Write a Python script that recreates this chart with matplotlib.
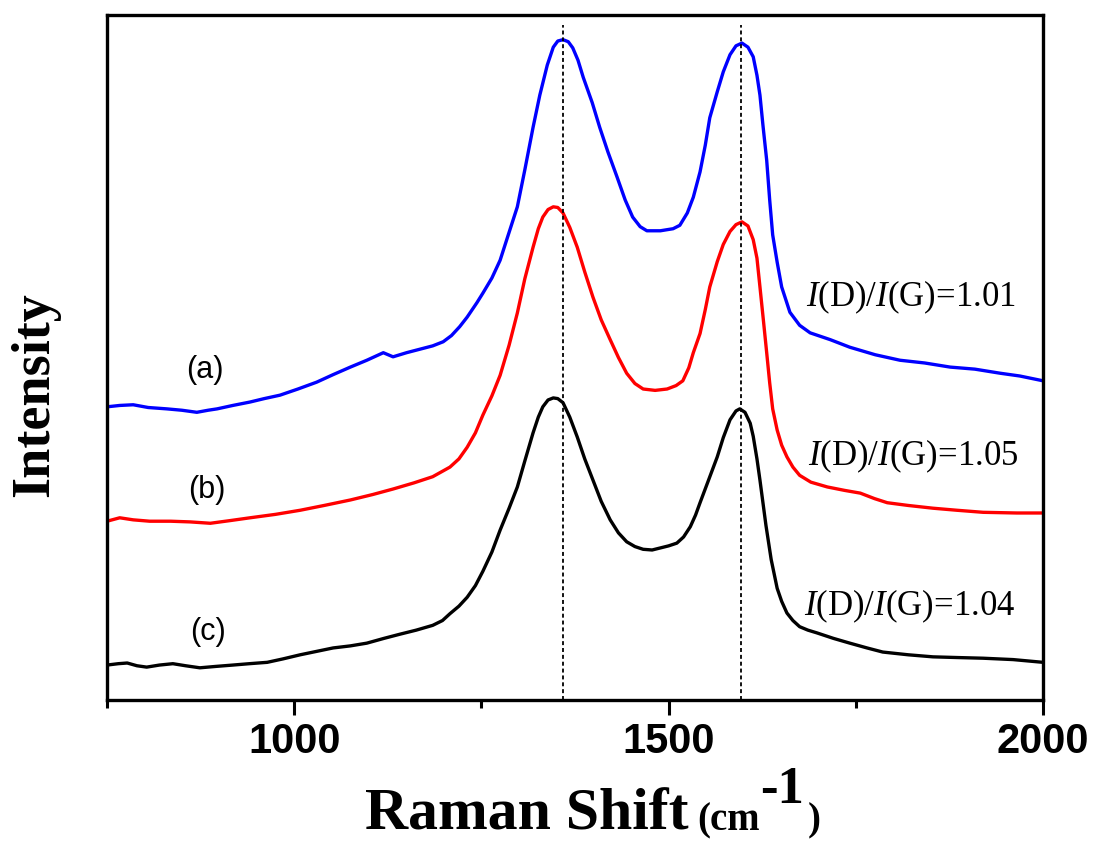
import matplotlib
matplotlib.use("Agg")
import matplotlib.pyplot as plt

plt.rcParams['mathtext.fontset'] = 'custom'
plt.rcParams['mathtext.rm'] = 'Liberation Serif'
plt.rcParams['mathtext.it'] = 'Liberation Serif:italic'

# ---- data (Raman shift in cm^-1, intensity in arbitrary units) ----
shift_a = [750, 767, 785, 805, 830, 850, 870, 885, 897, 918, 941, 960, 981, 1005, 1030, 1052,
           1075, 1097, 1119, 1132, 1150, 1164, 1185, 1199, 1210, 1221, 1231, 1244, 1252, 1264,
           1275, 1285, 1298, 1308, 1319, 1328, 1338, 1346, 1352, 1359, 1366, 1372, 1379, 1386,
           1398, 1408, 1419, 1431, 1442, 1452, 1462, 1471, 1489, 1506, 1515, 1525, 1533, 1542,
           1549, 1555, 1565, 1573, 1582, 1590, 1598, 1606, 1613, 1618, 1622, 1626, 1631, 1635,
           1639, 1645, 1651, 1662, 1675, 1689, 1716, 1742, 1776, 1809, 1842, 1876, 1909, 1943,
           1969, 2000]
int_a = [42.8, 43.0, 43.1, 42.7, 42.5, 42.3, 42.0, 42.3, 42.5, 43.0, 43.5, 44.0, 44.5, 45.4, 46.4, 47.5,
         48.6, 49.6, 50.7, 50.1, 50.7, 51.1, 51.7, 52.3, 53.2, 54.5, 55.9, 58.0, 59.4, 61.6,
         64.2, 67.6, 72.0, 77.4, 83.6, 88.3, 92.7, 95.3, 96.2, 96.4, 96.1, 95.2, 93.4, 90.9,
         87.2, 83.6, 80.0, 76.4, 73.0, 70.5, 69.1, 68.5, 68.5, 68.8, 69.3, 71.1, 73.4, 77.1,
         81.0, 85.0, 88.8, 91.7, 94.2, 95.5, 95.9, 95.3, 93.9, 91.2, 88.3, 83.9, 78.8, 73.0,
         67.9, 63.9, 60.3, 56.6, 54.7, 53.6, 52.6, 51.5, 50.4, 49.6, 49.2, 48.6, 48.3, 47.7,
         47.3, 46.6]

shift_b = [750, 767, 785, 807, 835, 861, 888, 915, 941, 975, 1008, 1040, 1075, 1105, 1132, 1160,
           1185, 1208, 1220, 1231, 1242, 1252, 1264, 1275, 1287, 1298, 1308, 1319, 1326, 1332,
           1339, 1346, 1352, 1359, 1368, 1378, 1388, 1399, 1410, 1422, 1433, 1444, 1455, 1466,
           1482, 1498, 1510, 1519, 1527, 1533, 1542, 1549, 1555, 1565, 1573, 1582, 1590, 1598,
           1606, 1613, 1618, 1622, 1627, 1631, 1635, 1639, 1645, 1651, 1658, 1666, 1675, 1690,
           1712, 1735, 1756, 1775, 1792, 1820, 1853, 1885, 1920, 1965, 2000]
int_b = [26.1, 26.6, 26.3, 26.1, 26.1, 26.0, 25.8, 26.2, 26.6, 27.1, 27.7, 28.4, 29.2, 30.0, 30.8, 31.7,
         32.6, 34.0, 35.2, 36.9, 39.0, 41.6, 44.4, 47.4, 51.8, 56.5, 61.5, 66.1, 68.8, 70.5,
         71.6, 72.0, 71.9, 71.1, 69.0, 66.1, 62.5, 58.8, 55.5, 52.6, 50.0, 47.7, 46.2, 45.4,
         45.2, 45.4, 45.9, 46.6, 48.5, 50.7, 53.5, 57.0, 60.3, 64.0, 66.5, 68.4, 69.4, 69.8,
         69.2, 67.2, 64.5, 60.3, 55.0, 50.7, 46.3, 42.5, 39.4, 37.2, 35.5, 34.0, 32.8, 31.8,
         31.1, 30.6, 30.2, 29.4, 28.8, 28.4, 28.0, 27.7, 27.4, 27.3, 27.3]

shift_c = [750, 765, 777, 790, 803, 820, 838, 855, 874, 895, 918, 940, 964, 985, 1008, 1030,
           1052, 1075, 1097, 1120, 1141, 1163, 1185, 1198, 1208, 1220, 1231, 1242, 1252, 1264,
           1275, 1287, 1298, 1308, 1319, 1326, 1332, 1339, 1346, 1352, 1359, 1368, 1378, 1388,
           1399, 1410, 1422, 1433, 1444, 1455, 1466, 1478, 1489, 1500, 1511, 1520, 1529, 1536,
           1542, 1553, 1565, 1573, 1582, 1590, 1595, 1602, 1609, 1613, 1618, 1622, 1630, 1637,
           1645, 1651, 1658, 1666, 1675, 1686, 1698, 1720, 1742, 1765, 1786, 1820, 1853, 1885,
           1920, 1960, 2000]
int_c = [5.1, 5.3, 5.4, 5.0, 4.8, 5.1, 5.3, 5.0, 4.7, 4.9, 5.1, 5.3, 5.5, 6.0, 6.6, 7.1,
         7.6, 7.9, 8.3, 9.0, 9.6, 10.2, 10.9, 11.6, 12.6, 13.7, 15.0, 16.7, 18.8, 21.6,
         24.8, 28.0, 31.1, 34.9, 39.0, 41.3, 42.8, 43.8, 44.1, 44.0, 43.4, 41.3, 38.4, 35.2,
         32.1, 29.0, 26.3, 24.4, 23.1, 22.4, 22.0, 21.9, 22.2, 22.5, 22.9, 23.8, 25.3, 27.0,
         28.8, 32.0, 35.5, 38.3, 40.9, 42.2, 42.5, 42.0, 40.4, 38.5, 35.2, 32.1, 25.5, 20.5,
         16.3, 14.4, 12.7, 11.6, 10.7, 10.2, 9.8, 9.0, 8.3, 7.6, 7.0, 6.6, 6.3, 6.2,
         6.1, 5.9, 5.5]

series_labels = ["(a)", "(b)", "(c)"]
ratio_labels = ["1.01", "1.05", "1.04"]
colors = ["#0000FF", "#FF0000", "#000000"]
peak_D = 1359
peak_G = 1597
x_ticks = [1000, 1500, 2000]
x_minor = [750, 1250, 1750]

fig = plt.figure(figsize=(10.96, 8.41), dpi=100)
ax = fig.add_axes([107/1096, 1-700/841, (1043-107)/1096, (700-15)/841])

for xs, ys, c in zip([shift_a, shift_b, shift_c], [int_a, int_b, int_c], colors):
    ax.plot(xs, ys, color=c, lw=2.4, solid_joinstyle='round', solid_capstyle='round')

for p in (peak_D, peak_G):
    ax.axvline(p, ymin=0, ymax=0.985, color='black', lw=1.3, ls=(0, (2.2, 1.6)))

ax.set_xlim(750, 2000)
ax.set_ylim(0, 100)
ax.set_yticks([])
ax.set_xticks(x_ticks)
ax.set_xticks(x_minor, minor=True)
ax.set_xticklabels([str(t) for t in x_ticks], fontfamily='Liberation Sans',
                   fontweight='bold', fontsize=30)
ax.tick_params(axis='x', which='major', direction='out', length=11, width=2.2, pad=5)
ax.tick_params(axis='x', which='minor', direction='out', length=6, width=2.2)
for s in ax.spines.values():
    s.set_linewidth(2.4)

# series labels
for (lx, ly), t in zip([(881, 48.2), (883, 30.7), (885, 9.9)], series_labels):
    ax.text(lx, ly, t, fontfamily='Liberation Sans', fontsize=22, ha='center', va='center')

for (lx, ly), r in zip([(1684, 58.8), (1686, 35.6), (1681, 13.7)], ratio_labels):
    ax.text(lx, ly, r"$\mathit{I}$(D)/$\mathit{I}$(G)=" + r, fontfamily='Liberation Serif',
            fontsize=25, ha='left', va='center')

# axis labels
fig.text(35/1096, 1-395/841, "Intensity", rotation=90, fontfamily='Liberation Serif',
         fontweight='bold', fontsize=39, ha='center', va='center')
fig.text(365/1096, 1-830/841, "Raman Shift", fontfamily='Liberation Serif',
         fontweight='bold', fontsize=43, ha='left', va='baseline')
fig.text(697/1096, 1-830/841, "(cm", fontfamily='Liberation Serif',
         fontweight='bold', fontsize=28, ha='left', va='baseline')
fig.text(760/1096, 1-803/841, "-1", fontfamily='Liberation Serif',
         fontweight='bold', fontsize=38, ha='left', va='baseline')
fig.text(808/1096, 1-830/841, ")", fontfamily='Liberation Serif',
         fontweight='bold', fontsize=28, ha='left', va='baseline')

fig.savefig("out.png", dpi=100, facecolor='white')
